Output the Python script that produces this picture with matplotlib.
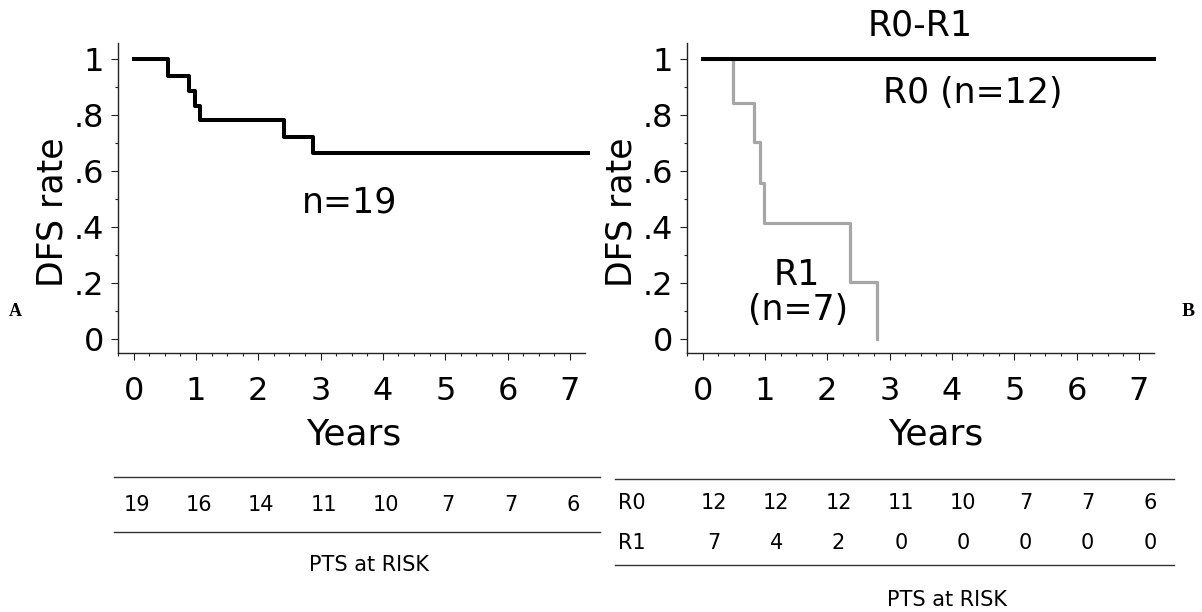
import matplotlib
matplotlib.use("Agg")
import matplotlib.pyplot as plt
import matplotlib.transforms as mtransforms
from matplotlib.lines import Line2D
from matplotlib.ticker import MultipleLocator, FuncFormatter

# --- data ---
years = [0, 1, 2, 3, 4, 5, 6, 7]

# panel A: all patients
all_time = [0, 0.555, 0.89, 0.985, 1.065, 2.42, 2.87, 7.3]
all_surv = [1.0, 0.94, 0.888, 0.833, 0.783, 0.723, 0.664, 0.664]
all_at_risk = [19, 16, 14, 11, 10, 7, 7, 6]

# panel B: R0 vs R1
r0_time = [0, 7.24]
r0_surv = [1.0, 1.0]
r1_time = [0, 0.49, 0.82, 0.92, 0.98, 2.36, 2.79]
r1_surv = [1.0, 0.845, 0.705, 0.556, 0.415, 0.204, 0.0]
r0_at_risk = [12, 12, 12, 11, 10, 7, 7, 6]
r1_at_risk = [7, 4, 2, 0, 0, 0, 0, 0]

W, H = 1202, 612
plt.rcParams["font.family"] = ["DejaVu Sans"]

fig = plt.figure(figsize=(W / 100, H / 100), dpi=100)


def fx(px):
    return px / W


def fy(py):
    return 1 - py / H


def style_axes(ax):
    ax.set_xlim(-0.257, 7.244)
    ax.set_ylim(-0.052, 1.058)
    for side in ("top", "right"):
        ax.spines[side].set_visible(False)
    for side in ("left", "bottom"):
        ax.spines[side].set_color("#222222")
        ax.spines[side].set_linewidth(1.0)
    ax.xaxis.set_major_locator(MultipleLocator(1))
    ax.xaxis.set_minor_locator(MultipleLocator(0.25))
    ax.yaxis.set_major_locator(MultipleLocator(0.2))
    ax.yaxis.set_minor_locator(MultipleLocator(0.1))
    ax.yaxis.set_major_formatter(
        FuncFormatter(lambda v, p: "0" if abs(v) < 1e-9 else ("1" if abs(v - 1) < 1e-9 else f"{v:.1f}".lstrip("0")))
    )
    ax.tick_params(axis="both", which="major", length=5.2, width=0.8, color="#222222", labelsize=23)
    ax.tick_params(axis="both", which="minor", length=2.4, width=0.8, color="#222222")
    ax.tick_params(axis="x", which="major", pad=11.5)
    ax.tick_params(axis="y", which="major", pad=4.5)
    ax.set_ylabel("DFS rate", fontsize=25)
    ax.yaxis.label.set(rotation_mode="default", va="center", ha="center")
    ax.yaxis.set_label_coords(-0.139, 0.455)
    ax.set_xlabel("Years", fontsize=26)
    ax.xaxis.label.set(va="center", ha="center")


# --- panel A ---
axA = fig.add_axes([fx(117.7), fy(353.3), fx(585 - 117.7), (353.3 - 43) / H])
style_axes(axA)
axA.xaxis.set_label_coords(0.506, -0.263)
axA.step(all_time, all_surv, where="post", color="black", lw=2.9, clip_on=False)
axA.text(3.46, 0.486, "n=19", fontsize=25, ha="center", va="center")

# --- panel B ---
axB = fig.add_axes([fx(686.7), fy(353.3), fx(1154 - 686.7), (353.3 - 43) / H])
style_axes(axB)
axB.xaxis.set_label_coords(0.533, -0.263)
axB.step(r1_time, r1_surv, where="post", color="#a6a6a6", lw=2.3, clip_on=False)
axB.step(r0_time, r0_surv, where="post", color="black", lw=2.9, clip_on=False)
axB.set_title("R0-R1", fontsize=25, pad=4)
axB.text(4.34, 0.879, "R0 (n=12)", fontsize=25, ha="center", va="center")
axB.text(1.51, 0.228, "R1", fontsize=25, ha="center", va="center")
axB.text(1.53, 0.102, "(n=7)", fontsize=25, ha="center", va="center")

# --- numbers at risk tables ---
line_kw = dict(color="#333333", lw=1.0)
fig.add_artist(Line2D([fx(114), fx(600)], [fy(476.7), fy(476.7)], **line_kw))
fig.add_artist(Line2D([fx(114), fx(600)], [fy(532.3), fy(532.3)], **line_kw))
fig.add_artist(Line2D([fx(615), fx(1174)], [fy(479.3), fy(479.3)], **line_kw))
fig.add_artist(Line2D([fx(615), fx(1174)], [fy(565), fy(565)], **line_kw))

tA = mtransforms.blended_transform_factory(axA.transData, fig.transFigure)
tB = mtransforms.blended_transform_factory(axB.transData, fig.transFigure)
for yr, n in zip(years, all_at_risk):
    fig.text(yr + 0.05, fy(505), str(n), transform=tA, fontsize=15, ha="center", va="center")
for yr, n0, n1 in zip(years, r0_at_risk, r1_at_risk):
    fig.text(yr + 0.18, fy(502.7), str(n0), transform=tB, fontsize=15, ha="center", va="center")
    fig.text(yr + 0.18, fy(542.7), str(n1), transform=tB, fontsize=15, ha="center", va="center")
fig.text(fx(618), fy(502.7), "R0", fontsize=15, ha="left", va="center")
fig.text(fx(618), fy(542.7), "R1", fontsize=15, ha="left", va="center")
fig.text(fx(369), fy(565), "PTS at RISK", fontsize=15, ha="center", va="center")
fig.text(fx(947), fy(600), "PTS at RISK", fontsize=15, ha="center", va="center")

# panel letters
fig.text(fx(15), fy(311), "A", fontsize=13, fontweight="bold", family="Liberation Serif", ha="center", va="center")
fig.text(fx(1188), fy(311), "B", fontsize=14, fontweight="bold", family="Liberation Serif", ha="center", va="center")

fig.savefig("out.png", dpi=100)
